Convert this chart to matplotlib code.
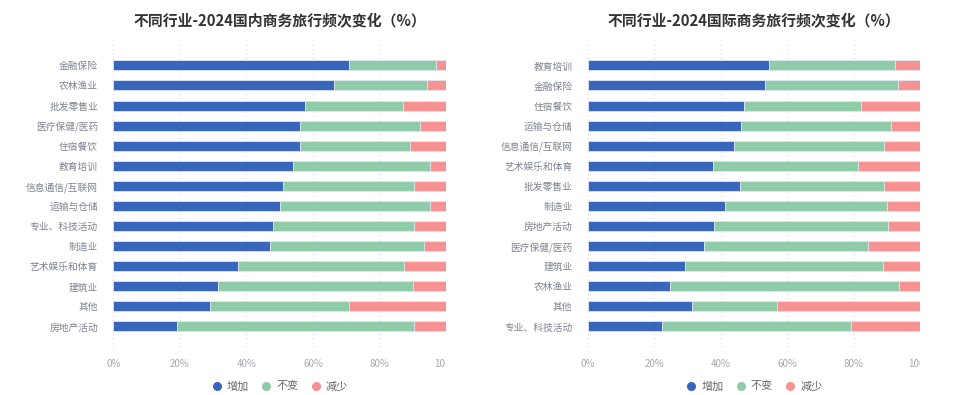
import matplotlib
matplotlib.use("Agg")
import matplotlib.pyplot as plt
from matplotlib.lines import Line2D
from matplotlib.transforms import Bbox

plt.rcParams['font.family'] = ['Noto Sans CJK SC', 'DejaVu Sans']

# 国内 data (%)
dom_labels = ["金融保险", "农林渔业", "批发零售业", "医疗保健/医药", "住宿餐饮", "教育培训",
              "信息通信/互联网", "运输与仓储", "专业、科技活动", "制造业", "艺术娱乐和体育",
              "建筑业", "其他", "房地产活动"]
dom_up = [70.9, 66.4, 57.6, 56.1, 56.1, 54.1, 51.1, 50.1, 48.1, 47.1, 37.6, 31.4, 29.1, 19.0]
dom_same = [26.1, 27.8, 29.3, 36.1, 33.1, 40.9, 39.1, 44.9, 42.1, 46.1, 49.6, 58.6, 41.8, 71.2]

# 国际 data (%)
intl_labels = ["教育培训", "金融保险", "住宿餐饮", "运输与仓储", "信息通信/互联网", "艺术娱乐和体育",
               "批发零售业", "制造业", "房地产活动", "医疗保健/医药", "建筑业", "农林渔业",
               "其他", "专业、科技活动"]
intl_up = [54.6, 53.4, 47.0, 46.1, 44.1, 37.7, 45.8, 41.3, 38.1, 34.9, 29.3, 24.8, 31.5, 22.2]
intl_same = [37.8, 40.0, 35.1, 45.1, 45.1, 43.7, 43.3, 48.8, 52.3, 49.5, 59.6, 68.7, 25.3, 57.0]

legend_names = ["增加", "不变", "减少"]
colors = ["#3866bd", "#8fcaa9", "#f79293"]
xticks = [0, 20, 40, 60, 80, 100]

fig = plt.figure(figsize=(9.6, 3.95), dpi=100)


def draw(rect, labels, up, same, title, clip_x):
    ax = fig.add_axes(rect)
    down = [100 - u - s for u, s in zip(up, same)]
    y = list(range(len(labels)))
    kw = dict(height=0.5, edgecolor="#dfe6f3", linewidth=0.6)
    ax.barh(y, up, color=colors[0], **kw)
    ax.barh(y, same, left=up, color=colors[1], **kw)
    ax.barh(y, down, left=[u + s for u, s in zip(up, same)], color=colors[2], **kw)
    ax.set_ylim(len(labels) - 1 + 1.27, -1.27)
    ax.set_xlim(0, 100)
    ax.set_yticks(y)
    ax.set_yticklabels(labels, fontsize=7, color="#7d8391")
    ax.set_xticks(xticks)
    ax.set_xticklabels([f"{t}%" for t in xticks], fontsize=7, color="#a3a7b0")
    ax.tick_params(axis="x", length=0, pad=5)
    ax.tick_params(axis="y", length=0, pad=11)
    for s in ax.spines.values():
        s.set_visible(False)
    ax.grid(axis="x", linestyle=(0, (1, 3)), color="#d5d8de", linewidth=0.8)
    ax.set_axisbelow(True)
    ax.set_title(title, fontsize=10.7, fontweight="bold", color="#333333", pad=10)
    # last tick label is cut off in the original
    lab = ax.get_xticklabels()[-1]
    lab.set_clip_on(True)
    lab.set_clip_box(Bbox.from_extents(0, 0, clip_x, 395))
    handles = [Line2D([], [], marker="o", linestyle="", markersize=5.5, color=c) for c in colors]
    ax.legend(handles, legend_names, loc="center", bbox_to_anchor=(0.5, -0.11),
              ncol=3, frameon=False, fontsize=8, handlelength=1.0, handletextpad=0.4,
              columnspacing=1.05, labelcolor="#666666")
    return ax


draw([0.118, 0.109, 0.3469, 0.790], dom_labels, dom_up, dom_same,
     "不同行业-2024国内商务旅行频次变化（%）", 445)
draw([0.6122, 0.109, 0.3465, 0.790], intl_labels, intl_up, intl_same,
     "不同行业-2024国际商务旅行频次变化（%）", 920)

fig.savefig("out.png", dpi=100)
